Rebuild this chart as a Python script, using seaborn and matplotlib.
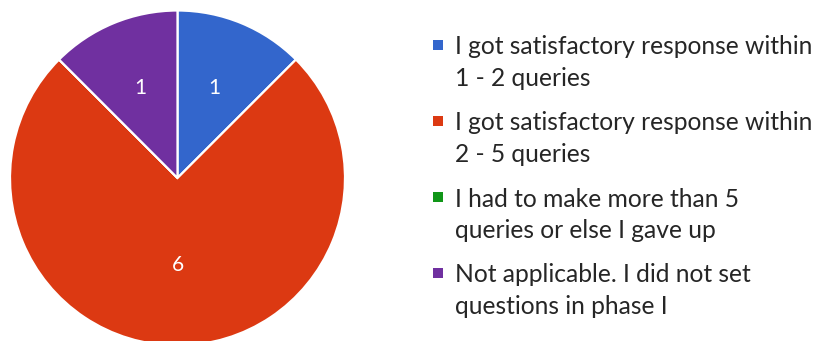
import matplotlib
matplotlib.use("Agg")
import matplotlib.pyplot as plt
import numpy as np
import seaborn as sns

categories = [
    "I got satisfactory response within\n1 - 2 queries",
    "I got satisfactory response within\n2 - 5 queries",
    "I had to make more than 5\nqueries or else I gave up",
    "Not applicable. I did not set\nquestions in phase I",
]
counts = [1, 6, 0, 1]
colors = ["#3366CC", "#DC3912", "#109618", "#7030A0"]

sns.set_theme(style="white")
plt.rcParams["font.family"] = ["Lato", "DejaVu Sans"]

W, H = 824, 341
fig = plt.figure(figsize=(W / 100, H / 100), dpi=100)
fig.patch.set_facecolor("white")

# pie axes sized in pixels: center (177.5, 178), radius 167.5
cx, cy, r = 177.5, 178, 167.5
ax = fig.add_axes([(cx - r) / W, (H - cy - r) / H, 2 * r / W, 2 * r / H])
ax.set_facecolor("white")

total = sum(counts)
wedges, texts, autotexts = ax.pie(
    counts,
    colors=colors,
    startangle=90,
    counterclock=False,
    radius=1,
    autopct=lambda p: f"{int(round(p * total / 100))}" if p > 0 else "",
    pctdistance=0.58,
    wedgeprops=dict(edgecolor="white", linewidth=1.6),
    textprops=dict(color="white", fontsize=15),
)
# the large slice carries its label a little closer to the centre
for w, t, v in zip(wedges, autotexts, counts):
    if v == max(counts):
        ang = np.deg2rad((w.theta1 + w.theta2) / 2)
        t.set_position((0.52 * np.cos(ang), 0.52 * np.sin(ang)))
ax.set_xlim(-1, 1)
ax.set_ylim(-1, 1)
ax.set_aspect("equal")
ax.axis("off")

# legend: coloured square beside the first line of each entry
x_sq, x_txt = 438, 455
y0, step, gap = 45, 76, 31
for i, (lab, col) in enumerate(zip(categories, colors)):
    y = y0 + i * step
    fig.patches.append(plt.Rectangle(((x_sq - 5) / W, 1 - (y + 5) / H), 10 / W, 10 / H,
                                     transform=fig.transFigure, facecolor=col,
                                     edgecolor="none", figure=fig))
    for j, line in enumerate(lab.split("\n")):
        fig.text(x_txt / W, 1 - (y + j * gap) / H, line, fontsize=17.7,
                 color="#262626", va="center_baseline", ha="left")

fig.savefig("out.png", dpi=100, facecolor="white")
